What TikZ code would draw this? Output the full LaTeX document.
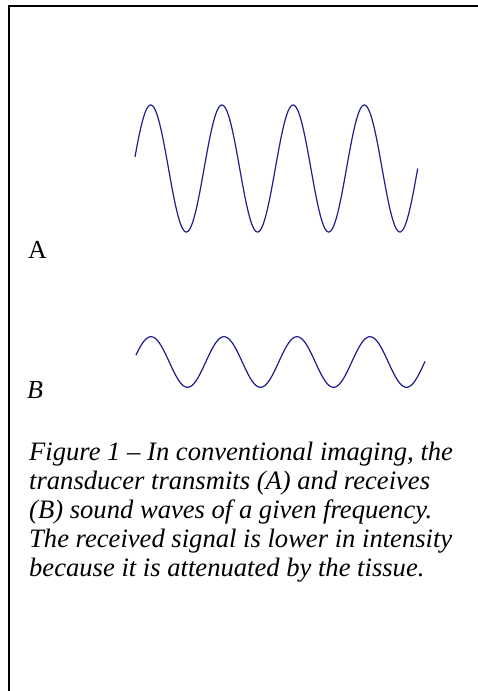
\documentclass[tikz,border=0pt]{standalone}
\usepackage{fontspec}
\setmainfont{Liberation Serif}
\definecolor{wave}{RGB}{30,30,140}
\begin{document}
\begin{tikzpicture}[x=1pt,y=-1pt,
  wavestyle/.style={draw=wave,line width=1.2pt,line join=round},
  lbl/.style={inner sep=0pt,anchor=base west,font=\fontsize{26}{29}\selectfont},
  captext/.style={inner sep=0pt,anchor=base west,font=\fontsize{26.6}{29}\selectfont\itshape}]
\useasboundingbox (0,0) rectangle (478,691);
\coordinate (fb) at (8.7,700);
\coordinate (fc) at (8.7,5.8);
\coordinate (fr) at (490,5.8);
\draw[line width=1.8pt] (fb) -- (fc) -- (fr);
% wave A (transmitted)
\draw[wavestyle] plot[domain=135:417.7,samples=300,smooth]
  (\x,{168.5-63.5*cos((\x-150.7)*5.0562)});
% wave B (received)
\draw[wavestyle] plot[domain=136:425,samples=300,smooth]
  (\x,{362-25.3*cos((\x-151)*4.9315)});
\node[lbl] (la) at (28,258) {A};
\node[lbl] (lb) at (27,398) {\itshape B};
\node[captext] (c1) at (29,460.5) {Figure 1 – In conventional imaging, the};
\node[captext] (c2) at (29,489.5) {transducer transmits (A) and receives};
\node[captext] (c3) at (29,518.5) {(B) sound waves of a given frequency.};
\node[captext] (c4) at (29,547.5) {The received signal is lower in intensity};
\node[captext] (c5) at (29,576.5) {because it is attenuated by the tissue.};
\end{tikzpicture}
\end{document}
